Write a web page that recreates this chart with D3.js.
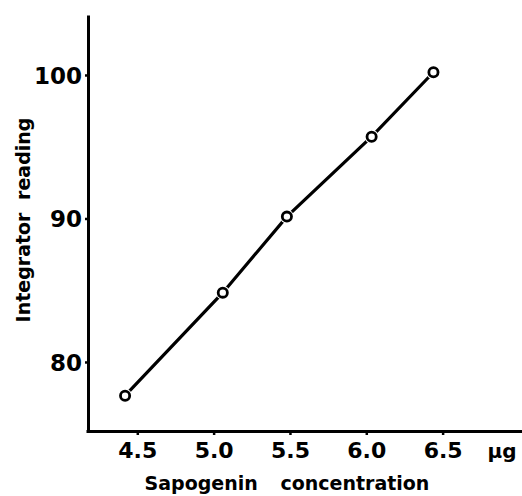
<!DOCTYPE html>
<html>
<head>
<meta charset="utf-8">
<script src="https://cdn.jsdelivr.net/npm/d3@7"></script>
<style>
  body { margin: 0; background: #fff; }
  svg { display: block; }
  .tick text { font-family: "DejaVu Sans", sans-serif; font-weight: bold; fill: #000; }
  .lbl { font-family: "DejaVu Sans", sans-serif; font-weight: bold; fill: #000; }
</style>
</head>
<body>
<div id="chart"></div>
<script>
// concentration in µg and the integrator reading
const concentration = [4.42, 5.06, 5.48, 6.035, 6.44];
const reading = [77.65, 84.83, 90.13, 95.7, 100.19];
const xTicks = [4.5, 5.0, 5.5, 6.0, 6.5];
const xTickLabels = ['4.5', '5.0', '5.5', '6.0', '6.5'];
const yTicks = [80, 90, 100];

const width = 522, height = 496;

const svg = d3.select('#chart').append('svg')
    .attr('width', width)
    .attr('height', height);

// axis extents are given in data units so the frame comes from the scales
const x = d3.scaleLinear().domain([4.164, 7.02]).range([86, 522]);
const y = d3.scaleLinear().domain([75.19, 104.18]).range([431, 15]);

const xAxis = svg.append('g')
    .attr('transform', `translate(0,${y(75.19)})`)
    .call(d3.axisBottom(x)
        .tickValues(xTicks)
        .tickFormat((d, i) => xTickLabels[i])
        .tickSizeOuter(0)
        .tickSizeInner(4));
xAxis.select('.domain').attr('stroke', '#000').attr('stroke-width', 3);
xAxis.selectAll('.tick line').attr('stroke', '#000').attr('stroke-width', 2.5);
xAxis.selectAll('.tick text')
    .attr('y', 27).attr('dy', 0)
    .style('font-size', '22px');

const yAxis = svg.append('g')
    .attr('transform', `translate(${x(4.164) + 2},0)`)
    .call(d3.axisLeft(y)
        .tickValues(yTicks)
        .tickSizeOuter(0)
        .tickSizeInner(3)
        .tickPadding(3));
yAxis.select('.domain').attr('stroke', '#000').attr('stroke-width', 3);
yAxis.selectAll('.tick line').attr('stroke', '#000').attr('stroke-width', 2.5);
yAxis.selectAll('.tick text')
    .style('font-size', '23px')
    .attr('dy', '0.36em');

// unit at the right end of the x axis
svg.append('text').classed('lbl', true)
    .attr('x', 502).attr('y', y(75.19) + 27)
    .attr('text-anchor', 'middle')
    .style('font-size', '20px')
    .text('µg');

svg.append('text').classed('lbl', true)
    .attr('x', 287).attr('y', 490)
    .attr('text-anchor', 'middle')
    .style('font-size', '19px')
    .style('word-spacing', '16px')
    .text('Sapogenin concentration');

svg.append('text').classed('lbl', true)
    .attr('transform', 'translate(30,220) rotate(-90)')
    .attr('text-anchor', 'middle')
    .style('font-size', '19px')
    .style('word-spacing', '6px')
    .text('Integrator reading');

const pts = concentration.map((c, i) => [c, reading[i]]);

svg.append('path')
    .datum(pts)
    .attr('fill', 'none')
    .attr('stroke', '#000')
    .attr('stroke-width', 3.2)
    .attr('stroke-linecap', 'round')
    .attr('d', d3.line().x(d => x(d[0])).y(d => y(d[1])));

const marks = svg.append('g').selectAll('g')
    .data(pts)
    .join('g')
    .attr('transform', d => `translate(${x(d[0])},${y(d[1])})`);
marks.append('circle').attr('r', 7).attr('fill', '#fff');
marks.append('circle').attr('r', 4.6)
    .attr('fill', '#fff')
    .attr('stroke', '#000')
    .attr('stroke-width', 2.8);
</script>
</body>
</html>
